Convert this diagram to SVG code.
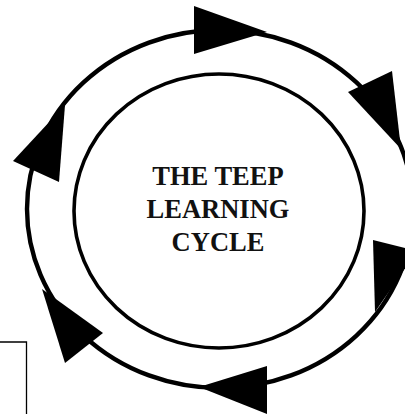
<svg xmlns="http://www.w3.org/2000/svg" width="405" height="414" viewBox="0 0 405 414">
  <style>
    .ring { fill: none; stroke: #000; stroke-width: 4.4; }
    .inner { fill: #fff; stroke: #000; stroke-width: 3.6; }
    .head { fill: #000; stroke: none; }
    .box { fill: none; stroke: #000; stroke-width: 1.3; }
    .label { font-family: "Liberation Serif", "Times New Roman", serif; font-weight: bold; font-size: 26.5px; fill: #111; text-anchor: middle; }
  </style>
  <rect x="0" y="0" width="405" height="414" fill="#fff"/>
  <g id="connectors">
    <ellipse class="ring" cx="220" cy="209" rx="193" ry="179"/>
    <polygon class="head" points="194,6 194,54 267,32"/>
    <polygon class="head" points="348,92 392,71 401,149"/>
    <polygon class="head" points="373,240 417,251 375,312"/>
    <polygon class="head" points="267,366 267,414 199,387"/>
    <polygon class="head" points="103,333 65,363 42,289"/>
    <polygon class="head" points="13,161 59,182 65,105"/>
  </g>
  <g id="node-cycle">
    <ellipse class="inner" cx="219" cy="211" rx="145" ry="137"/>
    <text class="label" x="218" y="185">THE TEEP</text>
    <text class="label" x="218" y="218">LEARNING</text>
    <text class="label" x="218" y="251">CYCLE</text>
  </g>
  <g id="node-box">
    <polyline class="box" points="0,342 26.5,342 26.5,414"/>
  </g>
</svg>
